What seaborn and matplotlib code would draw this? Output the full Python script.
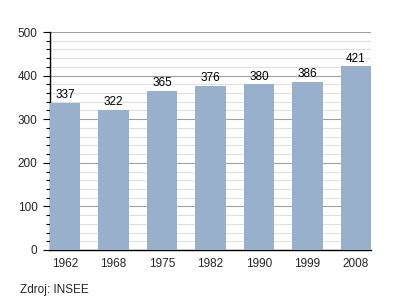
import matplotlib
matplotlib.use("Agg")
import matplotlib.pyplot as plt
import seaborn as sns
import pandas as pd
from matplotlib.ticker import MultipleLocator

years = ["1962", "1968", "1975", "1982", "1990", "1999", "2008"]
population = [337, 322, 365, 376, 380, 386, 421]

sns.set_style("white")
plt.rcParams['font.family'] = ['Liberation Sans', 'DejaVu Sans']

df = pd.DataFrame({"year": years, "pop": population})

fig = plt.figure(figsize=(4, 3), dpi=100)
ax = fig.add_axes([0.125, 0.1667, 0.8025, 0.7266])

w = 0.62
sns.barplot(data=df, x="year", y="pop", color="#98b0cc", saturation=1, width=w,
            edgecolor="none", linewidth=0, ax=ax, zorder=3)

ax.set_xlim(-w / 2, len(years) - 1 + w / 2)
ax.set_ylim(0, 500)
ax.yaxis.set_major_locator(MultipleLocator(100))
ax.yaxis.set_minor_locator(MultipleLocator(20))
ax.grid(which="major", axis="y", color="#a0a0a0", linewidth=0.8, zorder=0)
ax.grid(which="minor", axis="y", color="#e0e0e0", linewidth=0.8, zorder=0)
ax.set_axisbelow(True)

for s in ["top", "right"]:
    ax.spines[s].set_visible(False)
for s in ["left", "bottom"]:
    ax.spines[s].set_color("black")
    ax.spines[s].set_linewidth(1.0)

fs = 8.5
ax.tick_params(axis="y", which="major", left=True, length=5, width=0.8, color="black", labelsize=fs, pad=4)
ax.tick_params(axis="y", which="minor", left=True, length=3, width=0.8, color="black")
ax.tick_params(axis="x", bottom=False, labelsize=fs, pad=2)
ax.set_xlabel("")
ax.set_ylabel("")

for i, v in enumerate(population):
    ax.text(i, v + 4, str(v), ha="center", va="bottom", fontsize=fs, color="black")

fig.text(0.05, 0.015, "Zdroj: INSEE", fontsize=fs, ha="left", va="bottom")

fig.savefig("out.png", dpi=100)
